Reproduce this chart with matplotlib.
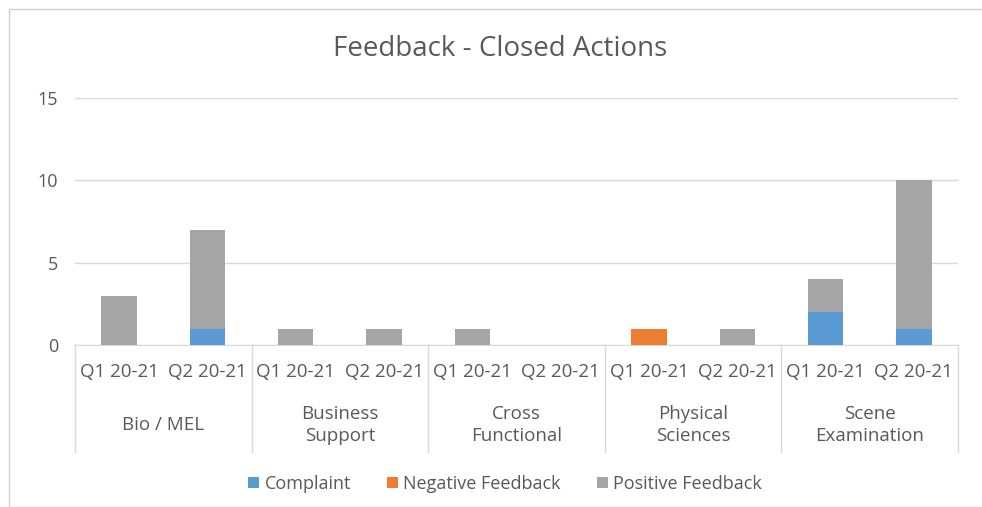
import numpy as np
import matplotlib
matplotlib.use("Agg")
import matplotlib.pyplot as plt
from matplotlib.patches import Rectangle

# data
groups = ["Bio / MEL", "Business\nSupport", "Cross\nFunctional", "Physical\nSciences", "Scene\nExamination"]
quarters = ["Q1 20-21", "Q2 20-21"]
complaint = [0, 1, 0, 0, 0, 0, 0, 0, 2, 1]
negative = [0, 0, 0, 0, 0, 0, 1, 0, 0, 0]
positive = [3, 6, 1, 1, 1, 0, 0, 1, 2, 9]
yticks = [0, 5, 10, 15]

colors = {"Complaint": "#5B9BD5", "Negative Feedback": "#ED7D31", "Positive Feedback": "#A5A5A5"}
text_col = "#595959"
grid_col = "#D9D9D9"
plt.rcParams["font.family"] = ["Open Sans", "DejaVu Sans"]

fig = plt.figure(figsize=(9.82, 5.07), dpi=100)
fig.patches.append(Rectangle((9 / 982, 0), 1, 498 / 507, transform=fig.transFigure,
                             fill=False, edgecolor="#D0D0D0", linewidth=1))
ax = fig.add_axes([75 / 982, (507 - 345) / 507, 883 / 982, 247 / 507])

n = len(complaint)
x = np.arange(n)
c = np.array(complaint)
ng = np.array(negative)
p = np.array(positive)
w = 0.4
ax.bar(x, c, w, color=colors["Complaint"], label="Complaint", zorder=3)
ax.bar(x, ng, w, bottom=c, color=colors["Negative Feedback"], label="Negative Feedback", zorder=3)
ax.bar(x, p, w, bottom=c + ng, color=colors["Positive Feedback"], label="Positive Feedback", zorder=3)

ax.set_xlim(-0.5, n - 0.5)
ax.set_ylim(0, 15)
ax.set_yticks(yticks)
ax.yaxis.grid(True, color=grid_col, linewidth=1, zorder=0)
ax.tick_params(axis="y", length=0, labelsize=13, labelcolor=text_col, pad=12)
ax.set_xticks([])
for s in ["top", "right", "left"]:
    ax.spines[s].set_visible(False)
ax.spines["bottom"].set_color(grid_col)

# two-level category axis
trans = ax.get_xaxis_transform()
for i in range(n):
    ax.text(i, -27 / 247, quarters[i % 2], transform=trans, ha="center", va="center",
            fontsize=13.5, color=text_col)
for g, name in enumerate(groups):
    ax.text(2 * g + 0.5, -80 / 247, name, transform=trans, ha="center", va="center",
            fontsize=13.5, color=text_col, linespacing=1.25)
for b in range(len(groups) + 1):
    ax.plot([2 * b - 0.5, 2 * b - 0.5], [0, -107 / 247], transform=trans, color=grid_col,
            linewidth=1, clip_on=False)

fig.text(500 / 982, 1 - 49 / 507, "Feedback - Closed Actions", ha="center", va="center",
         fontsize=20, color=text_col)
fig.legend(loc="center", bbox_to_anchor=(505 / 982, 1 - 484 / 507), ncol=3, frameon=False,
           fontsize=13, labelcolor=text_col, handlelength=0.6, handleheight=0.6,
           handletextpad=0.3, columnspacing=2.0)

fig.savefig("out.png", dpi=100)
